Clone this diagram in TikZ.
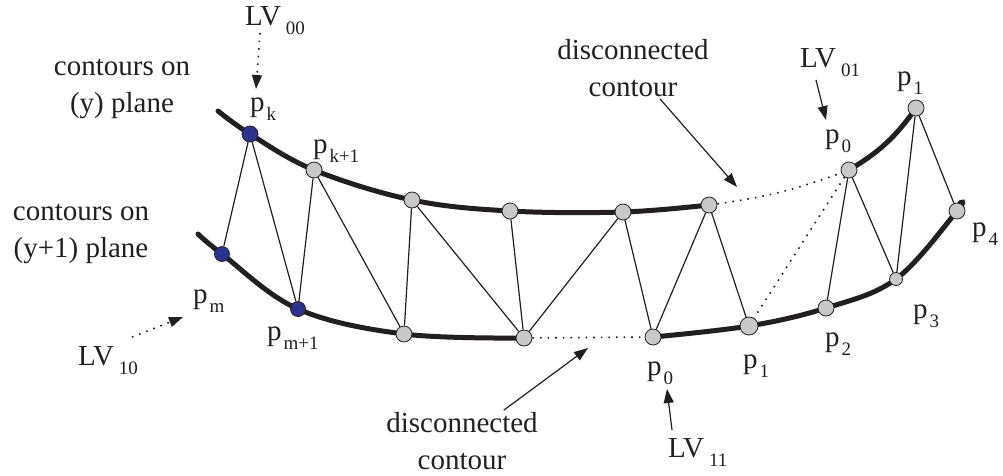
\documentclass[tikz,border=0pt]{standalone}
\usepackage{fontspec}
\setmainfont{Liberation Serif}
\usepackage{xcolor}
\usepackage{tikz}
\usetikzlibrary{arrows.meta, backgrounds, calc}
\definecolor{vblue}{HTML}{2B3390}
\definecolor{vgray}{HTML}{C8C8C8}
\definecolor{ink}{HTML}{231F20}
\newcommand{\lblfont}{\fontsize{29}{37}\selectfont}
\newcommand{\ix}[2]{#1\kern2pt\raisebox{-9pt}{\fontsize{19}{19}\selectfont #2}}
\newcommand{\lv}[1]{LV\kern5pt\raisebox{-9pt}{\fontsize{19}{19}\selectfont #1}}
\tikzset{
    contour/.style={draw=ink, line width=5pt, line cap=round},
    link/.style={draw=ink, line width=1.2pt},
    gap/.style={draw=ink, line width=1.6pt, dash pattern=on 1.6pt off 6pt},
    vtx/.style={circle, draw=ink, line width=0.8pt, fill=vgray, minimum size=16pt, inner sep=0pt},
    vtxb/.style={vtx, fill=vblue},
    lbl/.style={anchor=base west, inner sep=0pt, outer sep=0pt, text=ink, font=\lblfont},
    note/.style={align=center, inner sep=2pt, text=ink, font=\lblfont},
    arrow/.style={-{Triangle[length=14pt,width=10pt]}, draw=ink, line width=1.2pt},
    dotarrow/.style={arrow, dash pattern=on 1.6pt off 6pt, line width=1.6pt}
}
\begin{document}
\begin{tikzpicture}[x=1pt, y=-1pt]
    \useasboundingbox (0,0) rectangle (1003,475);

    \coordinate (ts) at (218,111);
    \coordinate (bs) at (198,234);
    \coordinate (be) at (960,203);

    \node [vtxb] (tk) at (250,134) {};
    \node [vtx] (tk1) at (314,170) {};
    \node [vtx] (t2) at (412,200) {};
    \node [vtx] (t3) at (510,211) {};
    \node [vtx] (t4) at (623,212) {};
    \node [vtx] (t5) at (709,205) {};
    \node [vtx] (tp0) at (849,170) {};
    \node [vtx] (tp1) at (916,108) {};

    \node [vtxb, minimum size=15pt] (b0) at (222,254) {};
    \node [vtxb, minimum size=15pt] (b1) at (298,309) {};
    \node [vtx] (b2) at (404,334) {};
    \node [vtx] (b3) at (524,338) {};
    \node [vtx] (bp0) at (653,337) {};
    \node [vtx, minimum size=18pt] (bp1) at (749,326) {};
    \node [vtx] (bp2) at (826,308) {};
    \node [vtx, minimum size=13pt] (bp3) at (896,279) {};
    \node [vtx] (bp4) at (957,211) {};

    \begin{scope}[on background layer]
        \draw [contour] plot [smooth, tension=0.6] coordinates {(ts) (tk.center) (tk1.center) (t2.center) (t3.center) (t4.center) (t5.center)};
        \draw [contour] (tp0.center) to [bend right=12] (tp1.center);
        \draw [contour] plot [smooth, tension=0.6] coordinates {(bs) (b0.center) (b1.center) (b2.center) (b3.center)};
        \draw [contour] plot [smooth, tension=0.6] coordinates {(bp0.center) (bp1.center) (bp2.center) (bp3.center) (bp4.center) (be)};
    \end{scope}

    \foreach \a/\b in {tk/b0, tk/b1, tk1/b1, tk1/b2, t2/b2, t2/b3, t3/b3, t4/b3, t4/bp0, t5/bp0, t5/bp1, tp0/bp2, tp0/bp3, tp1/bp3, tp1/bp4}
        \draw [link] (\a) -- (\b);

    \draw [gap] (t5) to [bend right=6] (tp0);
    \draw [gap] (b3) -- (bp0);
    \draw [gap] (tp0) -- (bp1);

    \node [note] (plny) at (122,89) {contours on\\(y) plane};
    \node [note] (plny1) at (81,234) {contours on\\(y+1) plane};
    \node [note] (gapt) at (633,68) {disconnected\\contour};
    \node [note] (gapb) at (462,441) {disconnected\\contour};

    \node [lbl] (lv00) at (245,25) {\lv{00}};
    \node [lbl] (lpk) at (250,111) {\ix{p}{k}};
    \node [lbl] (lpk1) at (313,153) {\ix{p}{k+1}};
    \node [lbl] (lpm) at (193,303) {\ix{p}{m}};
    \node [lbl] (lpm1) at (267,340) {\ix{p}{m+1}};
    \node [lbl] (lv10) at (78,365) {\lv{10}};
    \node [lbl] (lv01) at (800,67) {\lv{01}};
    \node [lbl] (ltp0) at (825,143) {\ix{p}{0}};
    \node [lbl] (ltp1) at (897,85) {\ix{p}{1}};
    \node [lbl] (lbp0) at (647,375) {\ix{p}{0}};
    \node [lbl] (lv11) at (668,457) {\lv{11}};
    \node [lbl] (lbp1) at (743,368) {\ix{p}{1}};
    \node [lbl] (lbp2) at (825,346) {\ix{p}{2}};
    \node [lbl] (lbp3) at (913,318) {\ix{p}{3}};
    \node [lbl] (lbp4) at (972,236) {\ix{p}{4}};

    \coordinate (gtt) at (737,187);
    \coordinate (gbt) at (588,348);

    \draw [dotarrow] ([shift={(15,8)}]lv00.base west) -- ([shift={(6,-22)}]lpk.base west);
    \draw [arrow] ([shift={(16,13)}]lv01.base west) -- ([shift={(1,-23)}]ltp0.base west);
    \draw [arrow] ([shift={(4,-27)}]lv11.base west) -- ([shift={(20,14)}]lbp0.base west);
    \draw [dotarrow] ([shift={(54,-28)}]lv10.base west) -- ([shift={(-10,14)}]lpm.base west);
    \draw [arrow] (gapt) -- (gtt);
    \draw [arrow] (gapb) -- (gbt);
\end{tikzpicture}
\end{document}
